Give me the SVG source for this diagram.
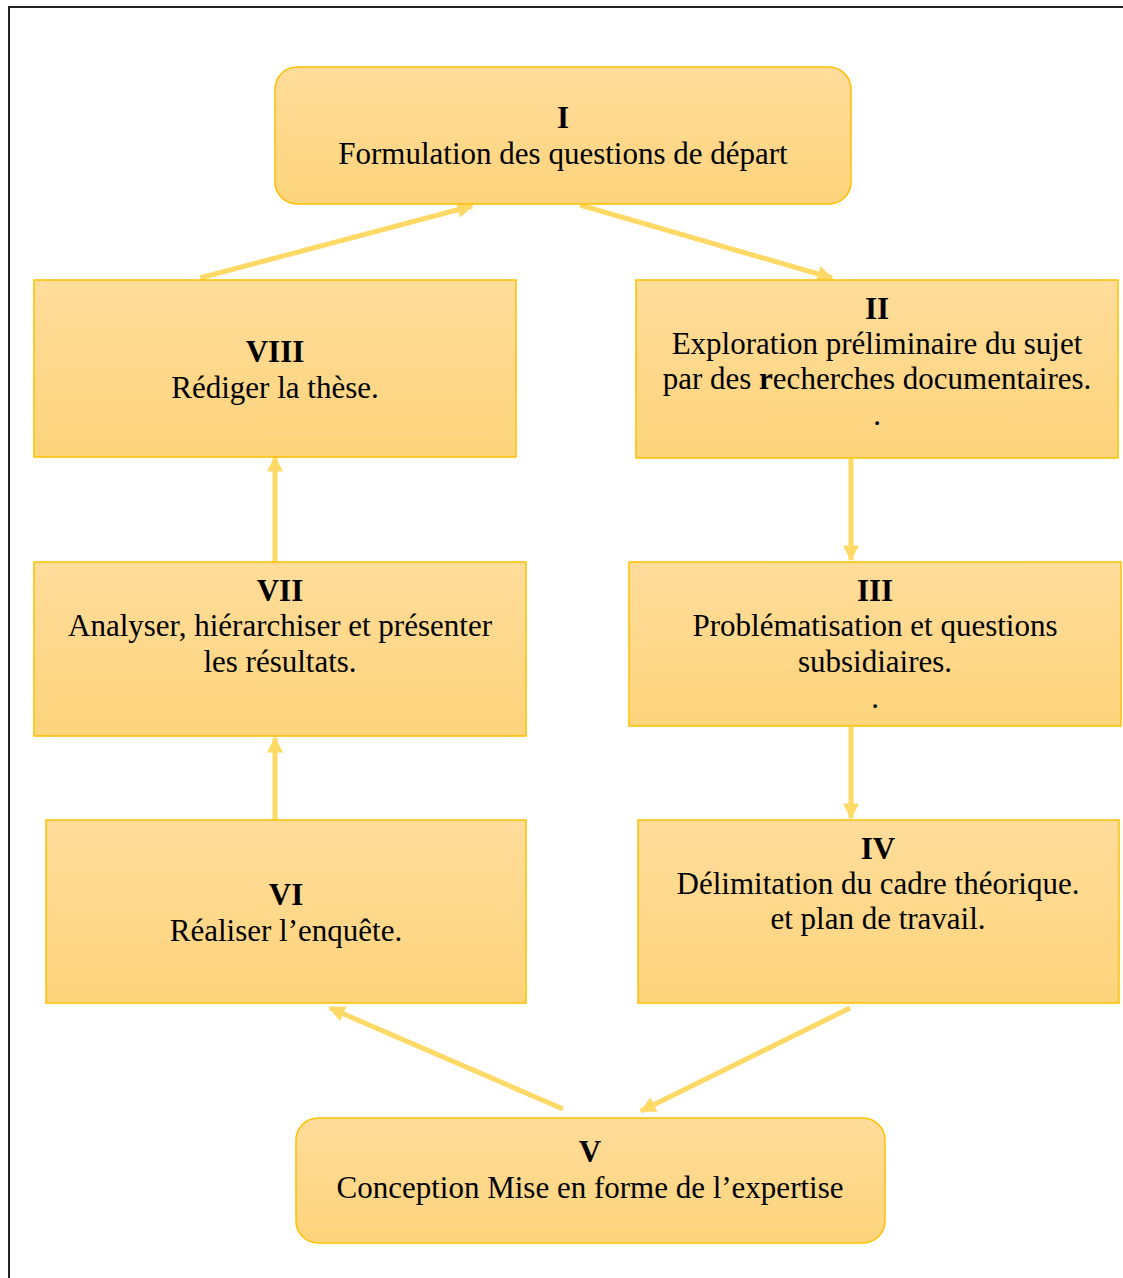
<svg xmlns="http://www.w3.org/2000/svg" width="1123" height="1278" viewBox="0 0 1123 1278">
  <defs>
    <linearGradient id="boxFill" x1="0" y1="0" x2="0" y2="1">
      <stop offset="0" stop-color="#FEDC9A"/>
      <stop offset="1" stop-color="#FED47C"/>
    </linearGradient>
    <marker id="head" viewBox="0 0 10 10" refX="9" refY="5" markerWidth="18" markerHeight="16" markerUnits="userSpaceOnUse" orient="auto">
      <path d="M0,0 L10,5 L0,10 Z" fill="#FFD966"/>
    </marker>
  </defs>
  <style>
    .box { fill: url(#boxFill); stroke: #FFC000; stroke-width: 1.5; }
    .t { font-family: "Liberation Serif", "Times New Roman", serif; font-size: 31px; fill: #000; text-anchor: middle; }
    .b { font-weight: bold; }
    .link { stroke: #FFD966; stroke-width: 5; fill: none; marker-end: url(#head); }
  </style>

  <rect x="0" y="0" width="1123" height="1278" fill="#FFFFFF"/>
  <!-- page frame -->
  <path d="M9,1278 L9,7 L1123,7" fill="none" stroke="#222" stroke-width="2"/>

  <g id="connectors">
    <line class="link" x1="200" y1="278" x2="472" y2="206"/>
    <line class="link" x1="580" y1="205" x2="832" y2="278"/>
    <line class="link" x1="851" y1="459" x2="851" y2="560"/>
    <line class="link" x1="851" y1="727" x2="851" y2="818"/>
    <line class="link" x1="850" y1="1008" x2="641" y2="1111"/>
    <line class="link" x1="563" y1="1109" x2="330" y2="1008"/>
    <line class="link" x1="275" y1="820" x2="275" y2="738"/>
    <line class="link" x1="275" y1="562" x2="275" y2="457"/>
  </g>

  <g id="node-I">
    <rect class="box" x="275" y="67" width="576" height="137" rx="22"/>
    <text class="t b" x="563" y="128">I</text>
    <text class="t" x="563" y="164">Formulation des questions de départ</text>
  </g>

  <g id="node-II">
    <rect class="box" x="636" y="280" width="482" height="178"/>
    <text class="t b" x="877" y="319">II</text>
    <text class="t" x="877" y="354">Exploration préliminaire du sujet</text>
    <text class="t" x="877" y="389">par des <tspan class="b">r</tspan>echerches documentaires.</text>
    <text class="t" x="877" y="425">.</text>
  </g>

  <g id="node-III">
    <rect class="box" x="629" y="562" width="492" height="164"/>
    <text class="t b" x="875" y="601">III</text>
    <text class="t" x="875" y="636">Problématisation et questions</text>
    <text class="t" x="875" y="672">subsidiaires.</text>
    <text class="t" x="875" y="708">.</text>
  </g>

  <g id="node-IV">
    <rect class="box" x="638" y="820" width="481" height="183"/>
    <text class="t b" x="878" y="859">IV</text>
    <text class="t" x="878" y="894">Délimitation du cadre théorique.</text>
    <text class="t" x="878" y="929">et plan de travail.</text>
  </g>

  <g id="node-V">
    <rect class="box" x="296" y="1118" width="589" height="125" rx="22"/>
    <text class="t b" x="590" y="1162">V</text>
    <text class="t" x="590" y="1198">Conception Mise en forme de l’expertise</text>
  </g>

  <g id="node-VI">
    <rect class="box" x="46" y="820" width="480" height="183"/>
    <text class="t b" x="286" y="905">VI</text>
    <text class="t" x="286" y="941">Réaliser l’enquête.</text>
  </g>

  <g id="node-VII">
    <rect class="box" x="34" y="562" width="492" height="174"/>
    <text class="t b" x="280" y="601">VII</text>
    <text class="t" x="280" y="636">Analyser, hiérarchiser et présenter</text>
    <text class="t" x="280" y="672">les résultats.</text>
  </g>

  <g id="node-VIII">
    <rect class="box" x="34" y="280" width="482" height="177"/>
    <text class="t b" x="275" y="362">VIII</text>
    <text class="t" x="275" y="398">Rédiger la thèse.</text>
  </g>
</svg>
